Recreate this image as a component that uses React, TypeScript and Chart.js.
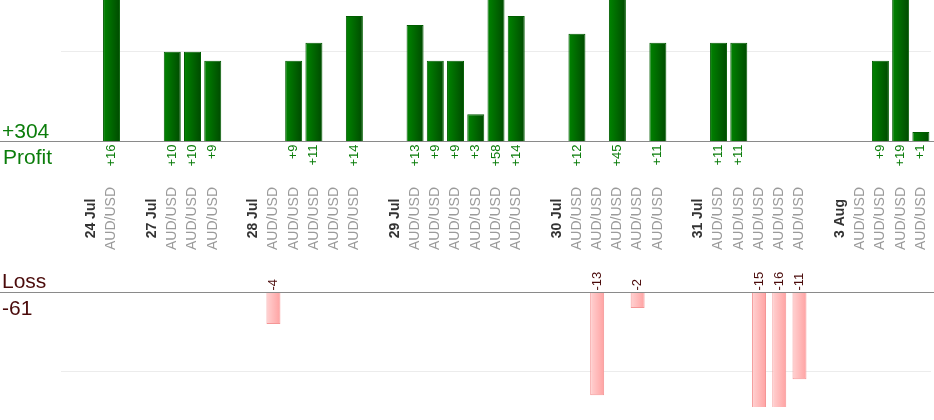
import { useEffect, useRef } from 'react';
import { Chart, registerables, type Plugin } from 'chart.js';

Chart.register(...registerables);

// one slot per column: blank spacer, day label, then the trades of that day
const categories = [
    '', '24 Jul', 'AUD/USD',
    '', '27 Jul', 'AUD/USD', 'AUD/USD', 'AUD/USD',
    '', '28 Jul', 'AUD/USD', 'AUD/USD', 'AUD/USD', 'AUD/USD', 'AUD/USD',
    '', '29 Jul', 'AUD/USD', 'AUD/USD', 'AUD/USD', 'AUD/USD', 'AUD/USD', 'AUD/USD',
    '', '30 Jul', 'AUD/USD', 'AUD/USD', 'AUD/USD', 'AUD/USD', 'AUD/USD',
    '', '31 Jul', 'AUD/USD', 'AUD/USD', 'AUD/USD', 'AUD/USD', 'AUD/USD',
    '', '3 Aug', 'AUD/USD', 'AUD/USD', 'AUD/USD', 'AUD/USD',
];

const profit = [
    null, null, 16,
    null, null, 10, 10, 9,
    null, null, null, 9, 11, null, 14,
    null, null, 13, 9, 9, 3, 58, 14,
    null, null, 12, null, 45, null, 11,
    null, null, 11, 11, null, null, null,
    null, null, null, 9, 19, 1,
];

const loss = [
    null, null, null,
    null, null, null, null, null,
    null, null, -4, null, null, null, null,
    null, null, null, null, null, null, null, null,
    null, null, null, -13, null, -2, null,
    null, null, null, null, -15, -16, -11,
    null, null, null, null, null, null,
];

const profitGrid = [10];
const lossGrid = [-10];

const FONT = '"Liberation Sans", Arial, sans-serif';
const GREEN = '#0b7d0b';
const MAROON = '#4a0a0a';

const sum = (arr: (number | null)[]) => arr.reduce<number>((a, v) => a + (v ?? 0), 0);

function gradient(c0: string, c1: string, frac: number) {
    return (ctx: any) => {
        const chart = ctx.chart as Chart;
        if (!chart.chartArea || ctx.dataIndex === undefined) return c1;
        const xs = chart.scales.x;
        const xc = xs.getPixelForValue(ctx.dataIndex);
        const half = ((xs.width / categories.length) * frac) / 2;
        const g = chart.ctx.createLinearGradient(xc - half, 0, xc + half, 0);
        g.addColorStop(0, c0);
        g.addColorStop(1, c1);
        return g;
    };
}

const labelsPlugin: Plugin<'bar'> = {
    id: 'tradeLabels',
    afterDraw(chart) {
        const { ctx } = chart;
        const xs = chart.scales.x;
        const p0 = Math.round(chart.scales.yP.getPixelForValue(0)) + 0.5;
        const l0 = Math.round(chart.scales.yL.getPixelForValue(0)) + 0.5;

        ctx.save();
        // zero lines across the full width
        ctx.strokeStyle = '#8a8a8a';
        ctx.lineWidth = 1;
        ctx.beginPath();
        ctx.moveTo(0, p0);
        ctx.lineTo(chart.width, p0);
        ctx.moveTo(0, l0);
        ctx.lineTo(chart.width, l0);
        ctx.stroke();

        // totals
        ctx.font = `21px ${FONT}`;
        ctx.textAlign = 'left';
        ctx.textBaseline = 'alphabetic';
        ctx.fillStyle = GREEN;
        ctx.fillText(`+${sum(profit)}`, 2, p0 - 4);
        ctx.fillText('Profit', 3, p0 + 22);
        ctx.fillStyle = MAROON;
        ctx.fillText('Loss', 2, l0 - 5);
        ctx.fillText(`${sum(loss)}`, 2, l0 + 22);

        const rotated = (text: string, x: number, y: number, align: CanvasTextAlign) => {
            ctx.save();
            ctx.translate(x, y);
            ctx.rotate(-Math.PI / 2);
            ctx.textAlign = align;
            ctx.textBaseline = 'middle';
            ctx.fillText(text, 0, 0);
            ctx.restore();
        };

        categories.forEach((cat, i) => {
            const x = xs.getPixelForValue(i);
            const p = profit[i];
            const l = loss[i];
            if (p != null) {
                ctx.font = `13px ${FONT}`;
                ctx.fillStyle = GREEN;
                rotated(`+${p}`, x, p0 + 3, 'right');
            }
            if (l != null) {
                ctx.font = `13px ${FONT}`;
                ctx.fillStyle = MAROON;
                rotated(`${l}`, x, l0 - 2, 'left');
            }
            if (cat === '') return;
            if (cat === 'AUD/USD') {
                ctx.font = `14px ${FONT}`;
                ctx.fillStyle = '#9a9a9a';
            } else {
                ctx.font = `bold 14px ${FONT}`;
                ctx.fillStyle = '#333333';
            }
            rotated(cat, x, p0 + 77, 'center');
        });
        ctx.restore();
    },
};

function gridScale(min: number, max: number, values: number[]) {
    return {
        type: 'linear' as const,
        position: 'left' as const,
        min,
        max,
        afterBuildTicks: (s: any) => {
            s.ticks = values.map((value) => ({ value }));
        },
        ticks: { display: false },
        border: { display: false },
        grid: { drawTicks: false, color: '#ececec', lineWidth: 1 },
    };
}

export default function App() {
    const canvasRef = useRef<HTMLCanvasElement>(null);

    useEffect(() => {
        if (!canvasRef.current) return;
        const chart = new Chart(canvasRef.current, {
            type: 'bar',
            data: {
                labels: categories,
                datasets: [
                    {
                        data: profit,
                        yAxisID: 'yP',
                        barPercentage: 0.84,
                        categoryPercentage: 1,
                        grouped: false,
                        backgroundColor: gradient('#008400', '#004a00', 0.84),
                        borderColor: '#005c00',
                        borderWidth: 1,
                        clip: 0,
                    },
                    {
                        data: loss,
                        yAxisID: 'yL',
                        barPercentage: 0.69,
                        categoryPercentage: 1,
                        grouped: false,
                        backgroundColor: gradient('#ffd2d2', '#ffa2a2', 0.69),
                        borderColor: '#f59696',
                        borderWidth: 1,
                        clip: 0,
                    },
                ],
            },
            options: {
                animation: false,
                responsive: true,
                maintainAspectRatio: false,
                layout: { padding: { left: 61, right: 3, top: 0, bottom: 13 } },
                plugins: { legend: { display: false }, tooltip: { enabled: false } },
                scales: {
                    x: { type: 'category', display: false, offset: true },
                    yP: gridScale(-29.79, 15.79, profitGrid),
                    yL: gridScale(-14.5, 36.95, lossGrid),
                },
            },
            plugins: [labelsPlugin],
        });
        return () => chart.destroy();
    }, []);

    return (
        <div style={{ position: 'absolute', left: 0, top: 0, width: 934, height: 420 }}>
            <canvas ref={canvasRef} />
        </div>
    );
}
